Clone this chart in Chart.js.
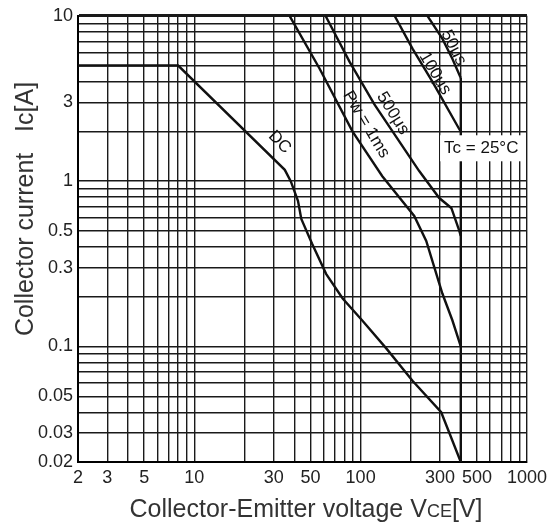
<!DOCTYPE html>
<html>
<head>
<meta charset="utf-8">
<script src="https://cdn.jsdelivr.net/npm/chart.js@4.4.0/dist/chart.umd.min.js"></script>
<style>
  body { margin: 0; background: #fff; }
  #wrap { width: 552px; height: 522px; }
</style>
</head>
<body>
<div id="wrap"><canvas id="soa" width="552" height="522"></canvas></div>
<script>
// grid lines (1..9 per decade) and labelled ticks
const xGrid = [2,3,4,5,6,7,8,9,10,20,30,40,50,60,70,80,90,100,200,300,400,500,600,700,800,900,1000];
const xTickValues = [2,3,5,10,30,50,100,300,500,1000];
const xTickText = ['2','3','5','10','30','50','100','300','500','1000'];

const yGrid = [0.02,0.03,0.04,0.05,0.06,0.07,0.08,0.09,0.1,0.2,0.3,0.4,0.5,0.6,0.7,0.8,0.9,1,2,3,4,5,6,7,8,9,10];
const yTickValues = [0.02,0.03,0.05,0.1,0.3,0.5,1,3,10];
const yTickText = ['0.02','0.03','0.05','0.1','0.3','0.5','1','3','10'];

// curves (Vce in V, Ic in A)
const dcV = [2, 8, 35, 38, 42, 44, 51, 62, 78, 102, 143, 205, 305, 400];
const dcI = [5, 5, 1.17, 1.0, 0.76, 0.59, 0.42, 0.275, 0.195, 0.144, 0.097, 0.062, 0.040, 0.02];

const ms1V = [37.4, 56.6, 89.3, 135, 210, 248, 310, 356, 400];
const ms1I = [10, 4.8, 2.0, 1.07, 0.616, 0.435, 0.209, 0.144, 0.1];

const us500V = [61.5, 85.7, 121, 225, 297, 351, 392, 400];
const us500I = [10, 5.28, 2.91, 1.15, 0.79, 0.688, 0.5, 0.467];

const us100V = [160, 205, 270, 392, 400];
const us100I = [10, 6.33, 4.0, 2.06, 2.0];

const us50V = [252, 310, 356, 400];
const us50I = [10, 7.27, 5.5, 4.2];

const limV = [400, 400];
const limI = [4.2, 0.02];

function pts(vs, is) {
  return vs.map((v, i) => ({ x: v, y: is[i] }));
}

function tickText(value, values, texts) {
  for (let i = 0; i < values.length; i++) {
    if (Math.abs(values[i] - value) < values[i] * 1e-6) return texts[i];
  }
  return '';
}

const FONT = '"Liberation Sans", Arial, sans-serif';

function curve(vs, is) {
  return {
    data: pts(vs, is),
    borderColor: '#111',
    borderWidth: 2.4,
    pointRadius: 0,
    tension: 0,
    fill: false
  };
}

// text notes along the curves, anchored in data units
const notes = [
  { text: 'DC', x: 32.6, y: 1.72, angle: 45 },
  { text: 'Pw = 1ms', x: 108, y: 2.2, angle: 59 },
  { text: '500\u03bcs', x: 156, y: 2.57, angle: 58 },
  { text: '100\u03bcs', x: 280, y: 4.48, angle: 59 },
  { text: '50\u03bcs', x: 362, y: 6.42, angle: 63 }
];

const notePlugin = {
  id: 'notes',
  afterDatasetsDraw(chart) {
    const ctx = chart.ctx;
    const xs = chart.scales.x, ys = chart.scales.y;
    ctx.save();
    ctx.fillStyle = '#111';
    ctx.font = '17px ' + FONT;
    ctx.textAlign = 'center';
    ctx.textBaseline = 'middle';
    notes.forEach(n => {
      ctx.save();
      ctx.translate(xs.getPixelForValue(n.x), ys.getPixelForValue(n.y));
      ctx.rotate(n.angle * Math.PI / 180);
      ctx.fillText(n.text, 0, 0);
      ctx.restore();
    });
    // case temperature label on a white patch
    const tx = xs.getPixelForValue(531), ty = ys.getPixelForValue(1.58);
    ctx.font = '17px ' + FONT;
    const label = 'Tc = 25\u00b0C';
    const w = ctx.measureText(label).width;
    ctx.fillStyle = '#fff';
    ctx.fillRect(tx - w / 2 - 4, ty - 13, w + 8, 26);
    ctx.fillStyle = '#111';
    ctx.fillText(label, tx, ty);
    ctx.restore();
  },
  afterDraw(chart) {
    const ctx = chart.ctx;
    ctx.save();
    ctx.fillStyle = '#333';
    // x title with small "CE"
    const big = '25px ' + FONT, small = '18px ' + FONT;
    const parts = [['Collector-Emitter voltage V', big], ['CE', small], ['[V]', big]];
    let total = 0;
    parts.forEach(p => { ctx.font = p[1]; total += ctx.measureText(p[0]).width; });
    let x = 306 - total / 2;
    ctx.textBaseline = 'alphabetic';
    ctx.textAlign = 'left';
    parts.forEach(p => { ctx.font = p[1]; ctx.fillText(p[0], x, 517); x += ctx.measureText(p[0]).width; });
    // y title
    ctx.translate(33, 209);
    ctx.rotate(-Math.PI / 2);
    ctx.font = big;
    ctx.textAlign = 'center';
    ctx.fillText('Collector current   Ic[A]', 0, 0);
    ctx.restore();
  }
};

new Chart(document.getElementById('soa'), {
  type: 'line',
  data: {
    datasets: [
      curve(dcV, dcI),
      curve(ms1V, ms1I),
      curve(us500V, us500I),
      curve(us100V, us100I),
      curve(us50V, us50I),
      curve(limV, limI)
    ]
  },
  options: {
    responsive: false,
    animation: false,
    layout: { padding: { top: 14, right: 24, left: 0, bottom: 0 } },
    plugins: { legend: { display: false }, tooltip: { enabled: false } },
    scales: {
      x: {
        type: 'logarithmic',
        min: 2,
        max: 1000,
        afterFit: s => { s.height = 60; },
        afterBuildTicks: s => { s.ticks = xGrid.map(v => ({ value: v })); },
        ticks: {
          autoSkip: false,
          maxRotation: 0,
          padding: 5,
          color: '#222',
          font: { family: FONT, size: 18 },
          callback: v => tickText(v, xTickValues, xTickText)
        },
        grid: { color: '#1a1a1a', lineWidth: 1.4, drawTicks: false },
        border: { color: '#000', width: 2 }
      },
      y: {
        type: 'logarithmic',
        min: 0.02,
        max: 10,
        afterFit: s => { s.width = 78; },
        afterBuildTicks: s => { s.ticks = yGrid.map(v => ({ value: v })); },
        ticks: {
          autoSkip: false,
          padding: 5,
          color: '#222',
          font: { family: FONT, size: 18 },
          callback: v => tickText(v, yTickValues, yTickText)
        },
        grid: {
          color: '#1a1a1a',
          lineWidth: c => (c.tick && c.tick.value === 10 ? 3 : 1.4),
          drawTicks: false
        },
        border: { color: '#000', width: 2 }
      }
    }
  },
  plugins: [notePlugin]
});
</script>
</body>
</html>
